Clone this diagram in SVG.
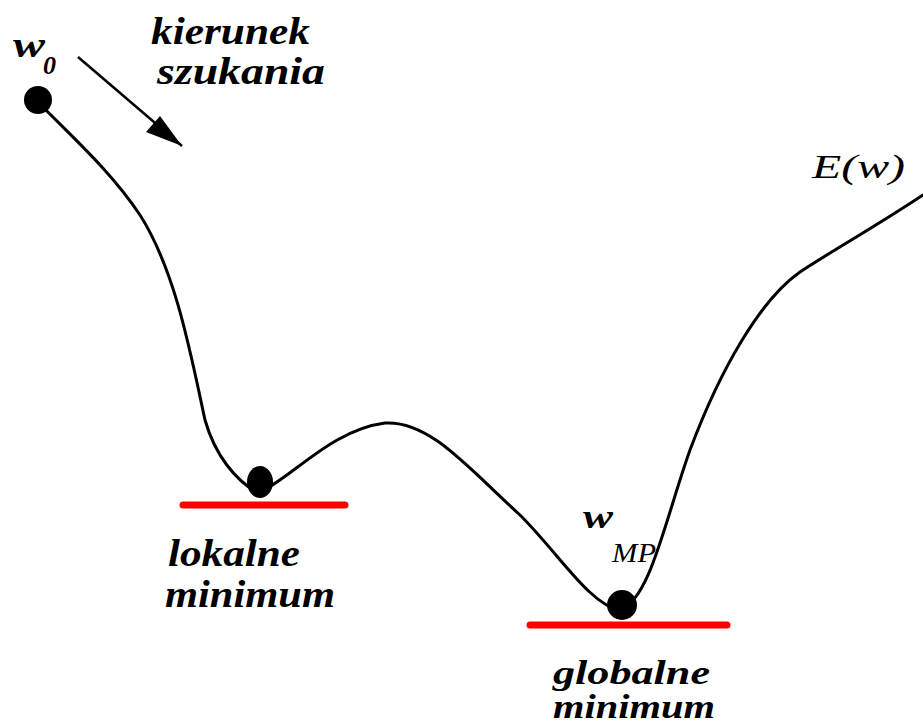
<svg xmlns="http://www.w3.org/2000/svg" width="923" height="728" viewBox="0 0 923 728">
<defs>
<style>
.lbl{font-family:"Liberation Serif",serif;font-style:italic;font-weight:bold;fill:#000}
.curve{fill:none;stroke:#000;stroke-width:3;stroke-linecap:round;stroke-linejoin:round}
.red{stroke:#ff0000;stroke-width:7;stroke-linecap:round}
.ball{fill:#000}
</style>
</defs>
<rect width="923" height="728" fill="#fff"/>
<g id="connectors">
<path id="curve" class="curve" d="M38,102 C70,135 110,170 140,215 C175,270 190,350 205,420 C215,455 235,480 258,493 C290,480 330,430 385,423 C430,420 470,470 520,515 C560,555 590,605 620,610 C650,600 665,520 690,450 C720,370 760,300 800,272 C830,252 870,230 923,195"/>
<line id="arrow" x1="78" y1="57" x2="182" y2="146" stroke="#000" stroke-width="2.5"/>
<path d="M182,146 L146,132 L160,116 z" fill="#000"/>
</g>
<g id="start">
<circle class="ball" cx="38" cy="100" r="14"/>
<text class="lbl" x="13" y="57" font-size="36" textLength="32" lengthAdjust="spacingAndGlyphs">w</text>
<text class="lbl" x="43" y="74" font-size="26">0</text>
</g>
<g id="direction">
<text class="lbl" x="151" y="44" font-size="38" textLength="159" lengthAdjust="spacingAndGlyphs">kierunek</text>
<text class="lbl" x="157" y="84" font-size="38" textLength="168" lengthAdjust="spacingAndGlyphs">szukania</text>
</g>
<g id="energy">
<text x="812" y="178" font-size="34" font-family="Liberation Serif,serif" font-style="italic" textLength="93" lengthAdjust="spacingAndGlyphs">E(w)</text>
</g>
<g id="local-min">
<line class="red" x1="183" y1="505" x2="345" y2="505"/>
<ellipse class="ball" cx="260" cy="482" rx="13" ry="16"/>
<text class="lbl" x="168" y="566" font-size="38" textLength="132" lengthAdjust="spacingAndGlyphs">lokalne</text>
<text class="lbl" x="165" y="607" font-size="38" textLength="170" lengthAdjust="spacingAndGlyphs">minimum</text>
</g>
<g id="global-min">
<line class="red" x1="530" y1="625" x2="727" y2="625"/>
<circle class="ball" cx="622" cy="605" r="15"/>
<text class="lbl" x="583" y="528" font-size="34" textLength="30" lengthAdjust="spacingAndGlyphs">w</text>
<text x="612" y="562" font-size="28" font-family="Liberation Serif,serif" font-style="italic" textLength="44" lengthAdjust="spacingAndGlyphs">MP</text>
<text class="lbl" x="553" y="684" font-size="34" textLength="157" lengthAdjust="spacingAndGlyphs">globalne</text>
<text class="lbl" x="553" y="718" font-size="34" textLength="162" lengthAdjust="spacingAndGlyphs">minimum</text>
</g>
</svg>
